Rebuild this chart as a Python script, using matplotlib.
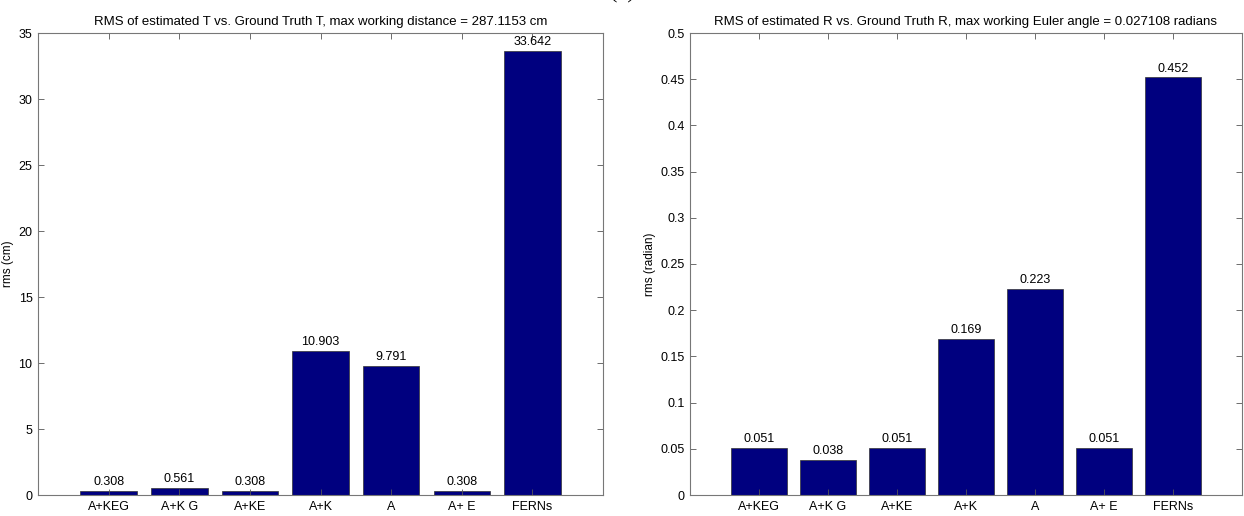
import matplotlib.pyplot as plt
import numpy as np

plt.rcParams['font.family'] = ['Liberation Sans', 'DejaVu Sans']

methods = ['A+KEG', 'A+K G', 'A+KE', 'A+K', 'A', 'A+ E', 'FERNs']
rms_t = [0.308, 0.561, 0.308, 10.903, 9.791, 0.308, 33.642]
rms_r = [0.051, 0.038, 0.051, 0.169, 0.223, 0.051, 0.452]

t_ticks = [0, 5, 10, 15, 20, 25, 30, 35]
r_ticks = [0, 0.05, 0.1, 0.15, 0.2, 0.25, 0.3, 0.35, 0.4, 0.45, 0.5]

bar_color = '#00007f'

fig = plt.figure(figsize=(12.44, 5.16), dpi=100)
ax1 = fig.add_axes([38 / 1244, 1 - 495 / 516, 565 / 1244, 462 / 516])
ax2 = fig.add_axes([690 / 1244, 1 - 495 / 516, 552 / 1244, 462 / 516])

# panel label, cut off at the top edge like in the source image
fig.text(0.5, 1.012, '(a)', ha='center', va='center', fontsize=16, family='Liberation Serif')


def draw(ax, vals, ticks, title, ylabel, fmt):
    x = np.arange(1, len(vals) + 1)
    ax.bar(x, vals, width=0.8, color=bar_color, edgecolor='#333333', linewidth=0.5)
    for xi, v in zip(x, vals):
        ax.text(xi, v + ticks[-1] * 0.006, fmt % v, ha='center', va='bottom', fontsize=9)
    ax.set_xlim(0, len(vals) + 1)
    ax.set_ylim(ticks[0], ticks[-1])
    ax.set_xticks(x)
    ax.set_xticklabels(methods)
    ax.set_yticks(ticks)
    ax.set_yticklabels(['%g' % t for t in ticks])
    ax.tick_params(direction='in', top=True, right=True, labelsize=9, length=4,
                   color='#555555', width=0.6, pad=4)
    for s in ax.spines.values():
        s.set_color('#777777')
        s.set_linewidth(0.8)
    ax.set_title(title, fontsize=9.5, pad=6)
    ax.set_ylabel(ylabel, fontsize=8.5, labelpad=3)


draw(ax1, rms_t, t_ticks,
     'RMS of estimated T vs. Ground Truth T, max working distance = 287.1153 cm',
     'rms (cm)', '%.3f')
draw(ax2, rms_r, r_ticks,
     'RMS of estimated R vs. Ground Truth R, max working Euler angle = 0.027108 radians',
     'rms (radian)', '%.3f')

fig.savefig('out.png', dpi=100)
